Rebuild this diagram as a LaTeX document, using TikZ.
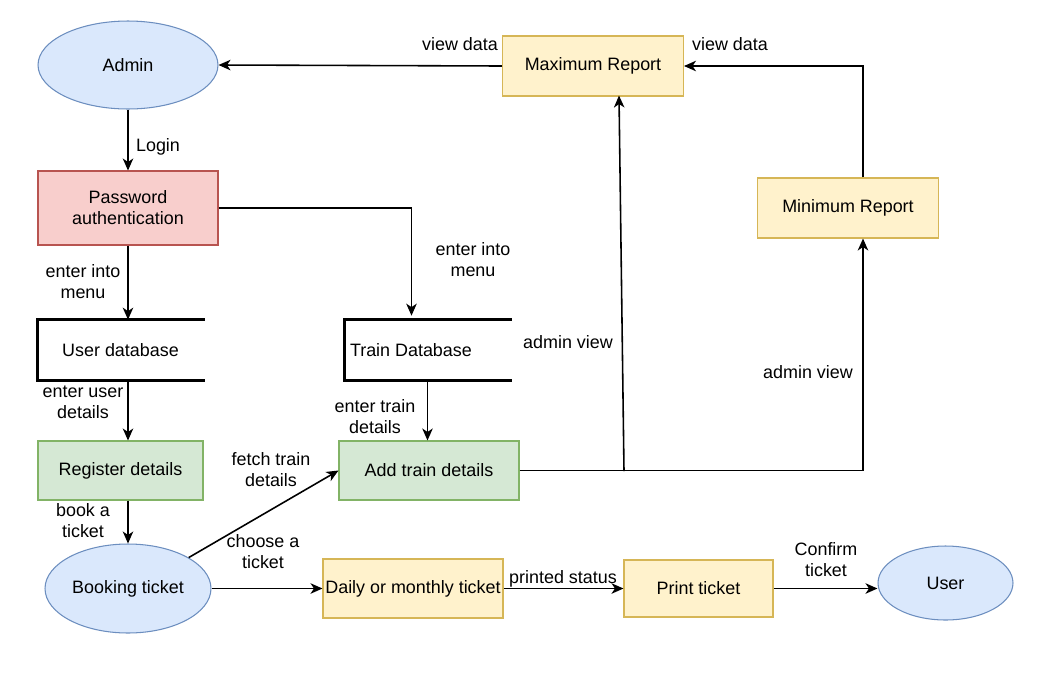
\documentclass[tikz,border=0pt]{standalone}
\usepackage{fontspec}
\setmainfont{Liberation Sans}
\usetikzlibrary{shapes.geometric, arrows.meta, calc}
\definecolor{cBlueFill}{HTML}{DAE8FC}
\definecolor{cBlueLine}{HTML}{6C8EBF}
\definecolor{cRedFill}{HTML}{F8CECC}
\definecolor{cRedLine}{HTML}{B85450}
\definecolor{cGreenFill}{HTML}{D5E8D4}
\definecolor{cGreenLine}{HTML}{82B366}
\definecolor{cYellowFill}{HTML}{FFF2CC}
\definecolor{cYellowLine}{HTML}{D6B656}
\tikzset{
	entity/.style   ={ellipse, draw=cBlueLine, fill=cBlueFill, line width=0.6pt, align=center, inner sep=0pt},
	process/.style  ={rectangle, minimum width=3.6cm, minimum height=1.2cm, align=center, line width=0.6pt},
	authbox/.style  ={process, draw=cRedLine, fill=cRedFill},
	greenbox/.style ={process, draw=cGreenLine, fill=cGreenFill},
	yellowbox/.style={process, draw=cYellowLine, fill=cYellowFill},
	store/.style    ={rectangle, minimum width=3.3cm, minimum height=1.2cm, inner sep=0.1cm},
	storeline/.style={line width=1.6pt, line cap=rect},
	flowarrow/.style={-{Stealth[length=2.4mm, width=2.1mm, inset=0.7mm]}, line width=0.9pt},
	lbl/.style      ={align=center, inner sep=0pt},
}
\begin{document}
\begin{tikzpicture}[x=0.02cm, y=-0.02cm, font=\fontsize{10.2pt}{11.9pt}\selectfont]
	\useasboundingbox (0,0) rectangle (1062,684);
	% entities and processes
	\node[entity, minimum width=3.6cm, minimum height=1.76cm] (admin) at (128,65) {Admin};
	\node[yellowbox, minimum width=3.62cm] (maxrep) at (593,66) {Maximum Report};
	\node[yellowbox, minimum width=3.62cm] (minrep) at (848,208) {Minimum Report};
	\node[authbox, minimum height=1.48cm] (pass) at (128,208) {Password\\authentication};
	\node[store] (userdb) at (120.5,350) {User database};
	\node[store, text width=3.1cm, align=flush left] (traindb) at (427.5,350) {Train Database};
	\node[greenbox, minimum width=3.3cm, minimum height=1.18cm] (register) at (120.5,470.5) {Register details};
	\node[greenbox, minimum height=1.18cm] (addtrain) at (429,470.5) {Add train details};
	\node[entity, minimum width=3.32cm, minimum height=1.78cm] (booking) at (128,588.5) {Booking ticket};
	\node[yellowbox, minimum height=1.18cm, inner sep=1pt] (daily) at (413,588.5) {Daily or monthly ticket};
	\node[yellowbox, minimum width=2.98cm, minimum height=1.14cm] (print) at (698.5,588.5) {Print ticket};
	\node[entity, minimum width=2.7cm, minimum height=1.48cm] (user) at (945.5,583) {User};
	% open data stores
	\foreach \s in {userdb, traindb}
		\draw[storeline] (\s.north east) -- (\s.north west) -- (\s.south west) -- (\s.south east);
	% flows
	\draw[flowarrow] (maxrep.west) -- (admin.east);
	\draw[flowarrow] ($(minrep.north)+(15,0)$) |- (maxrep.east);
	\draw[flowarrow] (admin.south) -- (pass.north);
	\draw[flowarrow] (pass.south) -- (pass.south |- userdb.north);
	\draw[flowarrow] (pass.east) -| ($(traindb.north)+(-16,-4)$);
	\draw[flowarrow] (pass.south |- userdb.south) -- (pass.south |- register.north);
	\draw[flowarrow] (traindb.south) -- (traindb.south |- addtrain.north);
	\draw[flowarrow] (pass.south |- register.south) -- (booking.north);
	\draw[flowarrow] (booking.27) -- (addtrain.west);
	\draw[flowarrow] (booking.east) -- (daily.west);
	\draw[flowarrow] (daily.east) -- (print.west);
	\draw[flowarrow] (print.east) -- (print.east -| user.west);
	\draw[flowarrow] (addtrain.east) -| ($(minrep.south)+(15,0)$);
	\coordinate (tap) at (624,471);
	\draw[flowarrow] (tap) -- ($(maxrep.south)+(26,-1)$);
	% flow labels
	\node[lbl] (lViewA) at (460,44) {view data};
	\node[lbl] (lViewB) at (730,44) {view data};
	\node[lbl] (lLogin) at (158,147) {Login};
	\node[lbl] (lMenuA) at (83,282) {enter into\\menu};
	\node[lbl] (lMenuB) at (473,260) {enter into\\menu};
	\node[lbl] (lUser) at (83,402) {enter user\\details};
	\node[lbl] (lTrain) at (375,417) {enter train\\details};
	\node[lbl] (lBook) at (83,521) {book a\\ticket};
	\node[lbl] (lFetch) at (271,470) {fetch train\\details};
	\node[lbl] (lChoose) at (263,552) {choose a\\ticket};
	\node[lbl] (lPrinted) at (563,579) {printed status};
	\node[lbl] (lConfirm) at (826,560) {Confirm\\ticket};
	\node[lbl] (lAdminA) at (568,342) {admin view};
	\node[lbl] (lAdminB) at (808,372) {admin view};
\end{tikzpicture}
\end{document}
